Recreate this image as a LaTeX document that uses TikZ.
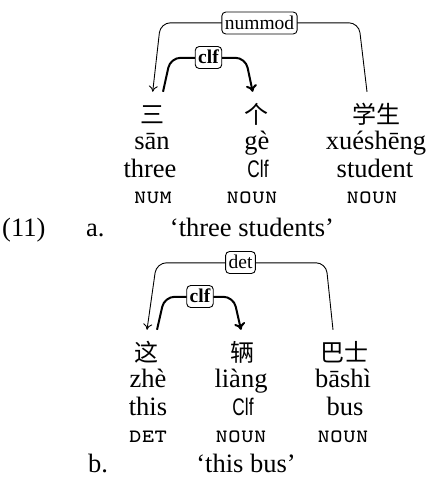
\documentclass[tikz,border=0pt]{standalone}
\usepackage{fontspec}
\usepackage{graphicx}
\setmainfont{Liberation Serif}
\setsansfont{Liberation Sans}
\newfontfamily\cjkfont{Noto Sans CJK SC}
\usetikzlibrary{calc,arrows.meta}
\tikzset{
  every node/.style={inner sep=0pt},
  cjk/.style={font=\cjkfont\fontsize{24}{26}\selectfont, anchor=base, text height=18pt, text depth=5pt, inner ysep=13pt},
  txt/.style={font=\fontsize{26.5}{30}\selectfont, anchor=base},
  clfg/.style={font=\sffamily\fontsize{24}{28}\selectfont, anchor=base},
  postag/.style={font=\ttfamily\scshape\fontsize{24.3}{28}\selectfont, anchor=base},
  deplabel/.style={draw, line width=0.9pt, rounded corners=4pt, fill=white, font=\fontsize{19.5}{22}\selectfont, inner xsep=3pt, text height=13pt, text depth=1pt, inner ysep=4pt},
  boldlabel/.style={deplabel, font=\bfseries\fontsize{19.5}{22}\selectfont},
  thinarc/.style={line width=0.9pt, rounded corners=10pt, -{To[length=6pt,width=9pt]}},
  thickarc/.style={line width=2pt, rounded corners=10pt, -{To[length=7pt,width=11pt]}}
}
\begin{document}
\begin{tikzpicture}[x=1pt,y=-1pt]
\useasboundingbox (0,0) rectangle (430,479);
% ---------- (11a)
\node[cjk] (a1) at (152,123) {三};
\node[cjk] (a2) at (256,123) {个};
\node[cjk] (a3) at (376,123) {学生};
\node[txt] (a1p) at (152,149) {sān};
\node[txt] (a2p) at (257,149) {gè};
\node[txt] (a3p) at (376,149) {xuéshēng};
\node[txt] (a1g) at (150,177) {three};
\node[clfg] (a2g) at (258,177) {\scalebox{0.72}[1]{Clf}};
\node[txt] (a3g) at (375,177) {student};
\node[postag] (a1s) at (153,203) {num};
\node[postag] (a2s) at (252,203) {noun};
\node[postag] (a3s) at (372,203) {noun};
\node[txt, anchor=base west] (ex) at (2,236) {(11)};
\node[txt, anchor=base west] (exa) at (86,236) {a.};
\node[txt] (atr) at (252,236) {‘three students’};
\draw[thinarc] ([xshift=-9pt]a3.north) -- ++(-8.2,-69) -- ++(-198.3,0) -- ([xshift=0.7pt]a1.north);
\draw[thickarc] ([xshift=11pt]a1.north) -- ++(7.5,-34) -- ++(75,0) -- ([xshift=-3.3pt]a2.north);
\node[deplabel] (lnum) at (259.5,23) {nummod};
\node[boldlabel] (lclfa) at (208.5,57.5) {clf};
% ---------- (11b)
\node[cjk] (b1) at (146,361) {这};
\node[cjk] (b2) at (242,361) {辆};
\node[cjk] (b3) at (344,361) {巴士};
\node[txt] (b1p) at (148,387) {zhè};
\node[txt] (b2p) at (241,387) {liàng};
\node[txt] (b3p) at (343,387) {bāshì};
\node[txt] (b1g) at (148,415) {this};
\node[clfg] (b2g) at (243,415) {\scalebox{0.72}[1]{Clf}};
\node[txt] (b3g) at (345,415) {bus};
\node[postag] (b1s) at (148,442) {det};
\node[postag] (b2s) at (241,442) {noun};
\node[postag] (b3s) at (343,442) {noun};
\node[txt, anchor=base west] (exb) at (88,472) {b.};
\node[txt] (btr) at (246,472) {‘this bus’};
\draw[thinarc] ([xshift=-11pt]b3.north) -- ++(-7,-67) -- ++(-169.5,0) -- ([xshift=1pt]b1.north);
\draw[thickarc] ([xshift=11pt]b1.north) -- ++(7.5,-33) -- ++(69,0) -- ([xshift=-1pt]b2.north);
\node[deplabel] (ldet) at (240.5,262.5) {det};
\node[boldlabel] (lclfb) at (200,296.5) {clf};
\end{tikzpicture}
\end{document}
